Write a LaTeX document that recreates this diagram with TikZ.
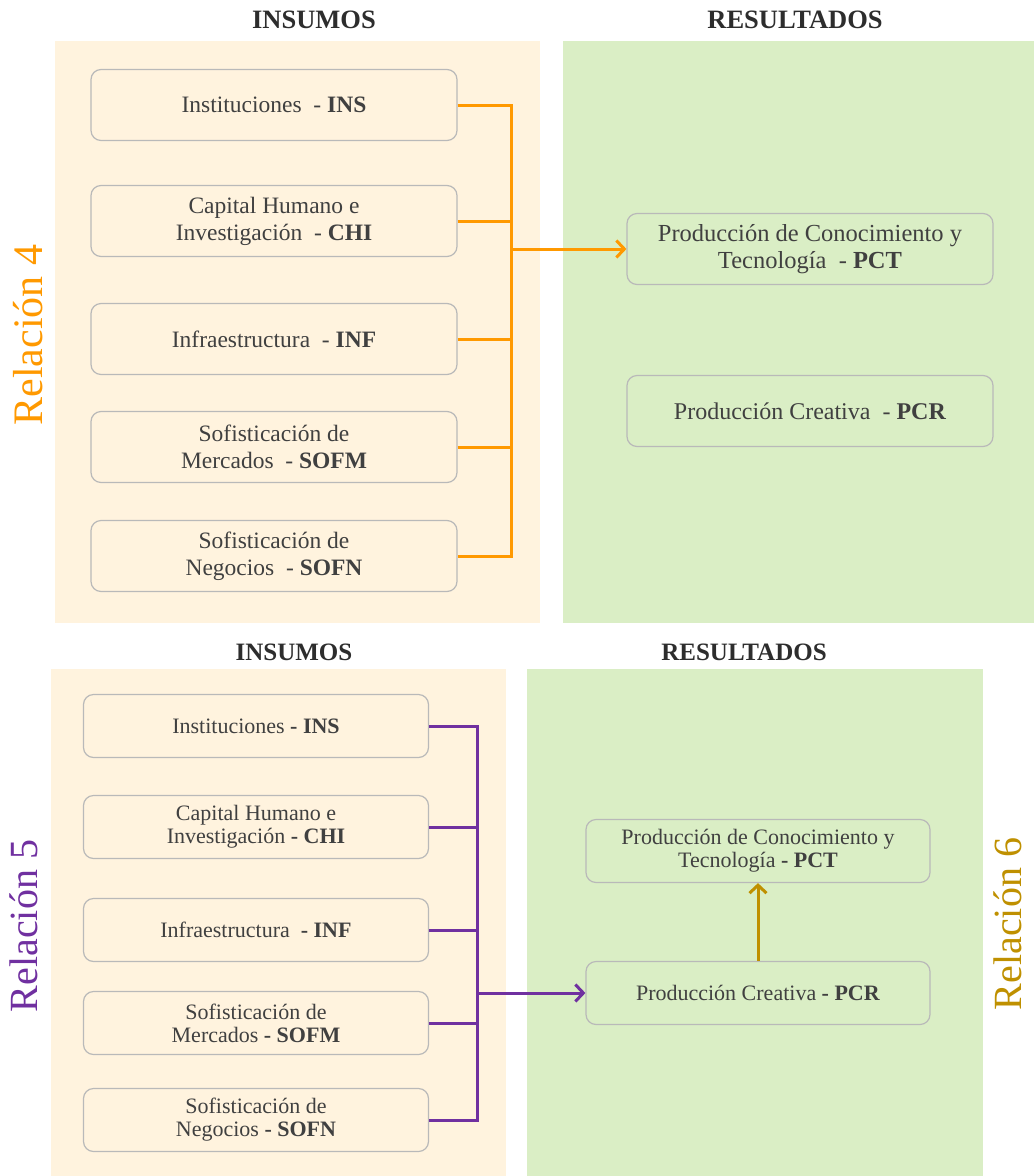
\documentclass[tikz,border=0pt]{standalone}
\usepackage{fontspec}
\setmainfont{Liberation Serif}
\usetikzlibrary{arrows.meta}
\definecolor{beige}{RGB}{255,243,222}
\definecolor{verde}{RGB}{218,238,197}
\definecolor{naranja}{RGB}{255,153,0}
\definecolor{morado}{RGB}{112,48,160}
\definecolor{dorado}{RGB}{191,144,0}
\definecolor{texto}{RGB}{64,64,64}
\definecolor{borde}{RGB}{185,185,185}
\tikzset{
  caja/.style={draw=borde, line width=1.2pt, rounded corners=10pt, align=center, text=texto, inner sep=0pt},
  cajaA/.style={caja, minimum width=366pt, minimum height=71pt, font=\fontsize{23.5}{27}\selectfont},
  cajaB/.style={caja, minimum width=345pt, minimum height=63pt, font=\fontsize{22}{23}\selectfont},
  titulo/.style={text=texto!70!black, font=\fontsize{26.5}{30}\selectfont\bfseries},
  relacion/.style={rotate=90, font=\fontsize{42}{48}\selectfont},
  conector/.style={line width=3pt},
  flecha/.style={conector, -{Straight Barb[length=8pt,width=17pt]}}
}
\begin{document}
\begin{tikzpicture}[x=1pt, y=-1pt]
\useasboundingbox (0,0) rectangle (1034,1176);
% relacion 4
\fill[beige] (55,41) rectangle (540,623);
\fill[verde] (563,41) rectangle (1034,623);
\node[titulo] (ins4t) at (314,20) {INSUMOS};
\node[titulo] (res4t) at (795,20) {RESULTADOS};
\node[relacion, text=naranja] (rel4) at (28,335) {Relación 4};
\node[cajaA] (ins4) at (274,105) {Instituciones \ - \textbf{INS}};
\node[cajaA] (chi4) at (274,221) {Capital Humano e\\Investigación \ - \textbf{CHI}};
\node[cajaA] (inf4) at (274,339) {Infraestructura \ - \textbf{INF}};
\node[cajaA] (sofm4) at (274,447) {Sofisticación de\\Mercados \ - \textbf{SOFM}};
\node[cajaA] (sofn4) at (274,556) {Sofisticación de\\Negocios \ - \textbf{SOFN}};
\node[cajaA, font=\fontsize{24.5}{27}\selectfont] (pct4) at (810,249) {Producción de Conocimiento y\\Tecnología \ - \textbf{PCT}};
\node[cajaA, font=\fontsize{24}{27}\selectfont] (pcr4) at (810,411) {Producción Creativa \ - \textbf{PCR}};
\coordinate (bus4) at (511,105);
\draw[conector, naranja] (ins4.east) -- (ins4.east -| bus4) -- (sofn4.east -| bus4) -- (sofn4.east);
\foreach \n in {chi4,inf4,sofm4}
  \draw[conector, naranja] (\n.east) -- (\n.east -| bus4);
\draw[flecha, naranja] (pct4.west -| bus4) -- (pct4.west);

% relaciones 5 y 6
\fill[beige] (51,669) rectangle (506,1176);
\fill[verde] (527,669) rectangle (983,1176);
\node[titulo, font=\fontsize{25}{30}\selectfont\bfseries] (ins5t) at (294,652) {INSUMOS};
\node[titulo, font=\fontsize{25}{30}\selectfont\bfseries] (res5t) at (744,652) {RESULTADOS};
\node[relacion, text=morado, font=\fontsize{40}{48}\selectfont] (rel5) at (24,926) {Relación 5};
\node[relacion, text=dorado, font=\fontsize{40}{48}\selectfont] (rel6) at (1008,924) {Relación 6};
\node[cajaB] (ins5) at (256,726) {Instituciones \textbf{- INS}};
\node[cajaB] (chi5) at (256,827) {Capital Humano e\\Investigación \textbf{- CHI}};
\node[cajaB] (inf5) at (256,930) {Infraestructura \ \textbf{- INF}};
\node[cajaB] (sofm5) at (256,1023) {Sofisticación de\\Mercados \textbf{- SOFM}};
\node[cajaB] (sofn5) at (256,1120) {Sofisticación de\\Negocios \textbf{- SOFN}};
\node[cajaB, minimum width=344pt] (pct5) at (758,851) {Producción de Conocimiento y\\Tecnología \textbf{- PCT}};
\node[cajaB, minimum width=344pt] (pcr5) at (758,993) {Producción Creativa \textbf{- PCR}};
\coordinate (bus5) at (477,726);
\draw[conector, morado] (ins5.east) -- (ins5.east -| bus5) -- (sofn5.east -| bus5) -- (sofn5.east);
\foreach \n in {chi5,inf5,sofm5}
  \draw[conector, morado] (\n.east) -- (\n.east -| bus5);
\draw[flecha, morado] (pcr5.west -| bus5) -- (pcr5.west);
\draw[flecha, dorado] (pcr5.north) -- (pct5.south);
\end{tikzpicture}
\end{document}
